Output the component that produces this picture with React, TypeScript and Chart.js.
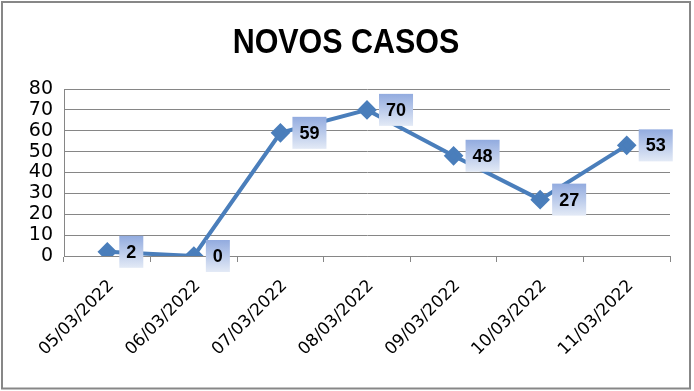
import React, { useEffect, useRef } from "react";
import { Chart, registerables } from "chart.js";

Chart.register(...registerables);

const categories: string[] = [
  "05/03/2022",
  "06/03/2022",
  "07/03/2022",
  "08/03/2022",
  "09/03/2022",
  "10/03/2022",
  "11/03/2022",
];
const novosCasos: number[] = [2, 0, 59, 70, 48, 27, 53];
const chartTitle = "NOVOS CASOS";
const yMin = 0;
const yMax = 80;
const yStep = 10;

const LINE_COLOR = "#4a7ebb";
const GRID_COLOR = "#868686";

const borderPlugin = {
  id: "outerBorder",
  afterDraw(chart: any) {
    const ctx = chart.ctx;
    ctx.save();
    ctx.strokeStyle = "#878787";
    ctx.lineWidth = 2;
    ctx.strokeRect(2, 2, 688, 386.5);
    ctx.restore();
  },
};

const titlePlugin = {
  id: "narrowTitle",
  afterDraw(chart: any) {
    const ctx = chart.ctx;
    ctx.save();
    ctx.font = "bold 35px 'Liberation Sans', Arial, sans-serif";
    ctx.fillStyle = "#000";
    ctx.textAlign = "center";
    ctx.textBaseline = "alphabetic";
    ctx.translate(346, 53);
    ctx.scale(0.87, 1);
    ctx.fillText(chartTitle, 0, 0);
    ctx.restore();
  },
};

const labelPlugin = {
  id: "boxLabels",
  afterDatasetsDraw(chart: any) {
    const ctx = chart.ctx;
    const meta = chart.getDatasetMeta(0);
    const data = chart.data.datasets[0].data as number[];
    ctx.save();
    ctx.font = "bold 18px 'Liberation Sans', Arial, sans-serif";
    ctx.textAlign = "center";
    ctx.textBaseline = "middle";
    meta.data.forEach((el: any, i: number) => {
      const text = String(data[i]);
      const tw = ctx.measureText(text).width;
      const w = tw + 14;
      const h = 32;
      const left = el.x + 12;
      const top = el.y - h / 2;
      const g = ctx.createLinearGradient(0, top, 0, top + h);
      g.addColorStop(0, "#92abdf");
      g.addColorStop(1, "#e3eaf6");
      ctx.fillStyle = g;
      ctx.fillRect(left, top, w, h);
      ctx.fillStyle = "#000";
      ctx.fillText(text, left + w / 2, el.y + 1);
    });
    ctx.restore();
  },
};

export default function App() {
  const ref = useRef<HTMLCanvasElement | null>(null);
  useEffect(() => {
    if (!ref.current) return;
    const chart = new Chart(ref.current, {
      type: "line",
      data: {
        labels: categories,
        datasets: [
          {
            data: novosCasos,
            borderColor: LINE_COLOR,
            backgroundColor: LINE_COLOR,
            borderWidth: 4,
            pointStyle: "rectRot",
            pointRadius: 7,
            pointHoverRadius: 7,
            pointBackgroundColor: LINE_COLOR,
            pointBorderColor: LINE_COLOR,
            tension: 0,
          },
        ],
      },
      options: {
        responsive: false,
        animation: false,
        layout: { padding: { left: 0, right: 24, top: 0, bottom: 0 } },
        plugins: {
          legend: { display: false },
          tooltip: { enabled: false },
          title: {
            display: true,
            text: chartTitle,
            color: "rgba(0,0,0,0)",
            font: {
              family: "'Liberation Sans', Arial, sans-serif",
              size: 32,
              weight: "bold",
              lineHeight: 1.2,
            },
            padding: { top: 22, bottom: 28.6 },
          },
        },
        scales: {
          x: {
            offset: true,
            grid: {
              offset: true,
              drawOnChartArea: false,
              drawTicks: true,
              tickLength: 6,
              color: GRID_COLOR,
            },
            border: { color: GRID_COLOR },
            ticks: {
              color: "#000",
              maxRotation: 45,
              minRotation: 45,
              autoSkip: false,
              padding: 14,
              labelOffset: 4,
              font: { family: "'DejaVu Sans', sans-serif", size: 17 },
            },
            afterFit(scale: any) {
              scale.height = 135;
            },
          },
          y: {
            min: yMin,
            max: yMax,
            grid: { color: GRID_COLOR, drawTicks: false },
            border: { color: GRID_COLOR },
            ticks: {
              stepSize: yStep,
              autoSkip: false,
              color: "#000",
              padding: 11,
              font: { family: "'DejaVu Sans', sans-serif", size: 19 },
            },
            afterFit(scale: any) {
              scale.width = 64;
            },
          },
        },
      },
      plugins: [labelPlugin, titlePlugin, borderPlugin],
    });
    return () => chart.destroy();
  }, []);
  return (
    <div style={{ position: "absolute", left: 0, top: 0, width: 694, height: 391, background: "#fff" }}>
      <canvas ref={ref} width={694} height={391} style={{ display: "block" }} />
    </div>
  );
}
